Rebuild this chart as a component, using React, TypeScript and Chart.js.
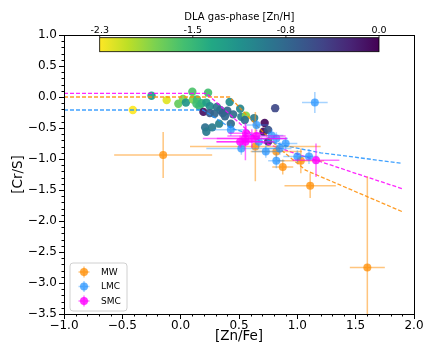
import React, { useEffect, useRef } from "react";
import { Chart, registerables } from "chart.js";
Chart.register(...registerables);

const FONT = "'DejaVu Sans', 'Liberation Sans', sans-serif";

// DLA points: [Zn/Fe], [Cr/S], colour = [Zn/H]
const dlaZnFe = [-0.41, -0.25, -0.12, -0.02, 0.02, 0.045, 0.10, 0.105, 0.14, 0.135, 0.16, 0.18, 0.195, 0.22, 0.235, 0.25, 0.25, 0.29, 0.31, 0.34, 0.36, 0.38, 0.33, 0.42, 0.43, 0.21, 0.22, 0.27, 0.40, 0.45, 0.51, 0.52, 0.56, 0.55, 0.63, 0.81, 0.72, 0.71, 0.75, 0.75];
const dlaCrS = [-0.21, 0.02, -0.05, -0.11, -0.03, -0.09, 0.085, -0.04, -0.04, -0.11, -0.15, -0.10, -0.24, -0.09, 0.07, -0.15, -0.26, -0.27, -0.16, -0.21, -0.26, -0.31, -0.43, -0.08, -0.43, -0.49, -0.56, -0.49, -0.22, -0.28, -0.19, -0.32, -0.30, -0.37, -0.34, -0.18, -0.42, -0.56, -0.53, -0.72];
const dlaZnH = [-2.3, -1.25, -2.2, -1.75, -1.85, -1.2, -1.65, -1.85, -1.6, -1.6, -1.55, -1.5, -0.1, -1.3, -1.6, -1.1, -0.65, -0.75, -0.9, -0.85, -0.7, -0.75, -1.0, -1.1, -0.8, -0.85, -0.95, -0.95, -0.75, -0.8, -1.05, -1.0, -1.9, -0.85, -0.95, -0.5, -0.05, -0.05, -0.6, -0.25];

// Milky Way
const mwZnFe = [-0.15, 0.64, 0.82, 0.875, 1.03, 1.11, 1.60];
const mwCrS = [-0.935, -0.80, -0.88, -1.13, -1.03, -1.43, -2.75];
const mwZnFeErr = [0.42, 0.56, 0.22, 0.09, 0.2, 0.22, 0.15];
const mwCrSErr = [0.37, 0.56, 0.1, 0.12, 0.2, 0.2, 1.47];

// LMC
const lmcZnFe = [1.15, 1.00, 1.10, 0.82, 0.73, 0.85, 0.52, 0.43, 0.67, 0.82, 0.65, 0.78, 0.90];
const lmcCrS = [-0.09, -0.96, -0.96, -1.03, -0.88, -0.83, -0.83, -0.53, -0.72, -0.67, -0.45, -0.62, -0.75];
const lmcZnFeErr = [0.11, 0.12, 0.08, 0.07, 0.12, 0.1, 0.3, 0.15, 0.12, 0.1, 0.1, 0.1, 0.1];
const lmcCrSErr = [0.17, 0.1, 0.12, 0.12, 0.1, 0.1, 0.1, 0.1, 0.1, 0.1, 0.1, 0.1, 0.1];

// SMC
const smcZnFe = [0.56, 0.555, 0.51, 0.61, 0.55, 0.65, 1.16];
const smcCrS = [-0.585, -0.72, -0.72, -0.67, -0.67, -0.63, -1.02];
const smcZnFeErr = [0.15, 0.25, 0.2, 0.3, 0.36, 0.25, 0.2];
const smcCrSErr = [0.12, 0.3, 0.1, 0.15, 0.12, 0.1, 0.27];

// depletion curves
const mwCurveX = [-1, 0.42, 0.62, 0.84, 1.07, 1.9];
const mwCurveY = [0, 0, -0.40, -0.82, -1.18, -1.85];
const lmcCurveX = [-1, 0.19, 0.43, 0.88, 1.2, 1.9];
const lmcCurveY = [-0.21, -0.21, -0.5, -0.78, -0.9, -1.07];
const smcCurveX = [-1, 0.22, 0.68, 1.9];
const smcCurveY = [0.06, 0.06, -0.72, -1.48];

const xTickValues = [-1, -0.5, 0, 0.5, 1, 1.5, 2];
const yTickValues = [-3.5, -3, -2.5, -2, -1.5, -1, -0.5, 0, 0.5, 1];
const cbarMin = -2.3;
const cbarMax = 0;
const cbarTickValues = [-2.3, -1.5333, -0.7667, 0];
const cbarTickLabels = ["-2.3", "-1.5", "-0.8", "0.0"];
const cbarTitle = "DLA gas-phase [Zn/H]";
const legendLabels = ["MW", "LMC", "SMC"];

const VIRIDIS = ["#440154", "#482475", "#414487", "#355f8d", "#2a788e", "#21918c", "#22a884", "#44bf70", "#7ad151", "#bddf26", "#fde725"];
function hex(h: string) {
  return [parseInt(h.slice(1, 3), 16), parseInt(h.slice(3, 5), 16), parseInt(h.slice(5, 7), 16)];
}
function viridis(t: number, a = 1) {
  t = Math.max(0, Math.min(1, t));
  const f = t * 10;
  const i = Math.min(9, Math.floor(f));
  const fr = f - i;
  const c0 = hex(VIRIDIS[i]);
  const c1 = hex(VIRIDIS[i + 1]);
  const c = c0.map((v, k) => Math.round(v + (c1[k] - v) * fr));
  return `rgba(${c[0]},${c[1]},${c[2]},${a})`;
}
function znhColor(v: number, a = 1) {
  return viridis((cbarMax - v) / (cbarMax - cbarMin), a);
}

const MW_C = "rgba(255,140,0,0.75)";
const MW_E = "rgba(255,150,20,0.55)";
const LMC_C = "rgba(30,144,255,0.7)";
const LMC_E = "rgba(30,144,255,0.4)";
const SMC_C = "rgba(255,0,255,0.8)";
const SMC_E = "rgba(255,0,255,0.55)";
const legendColors = [[MW_C, MW_E], [LMC_C, LMC_E], [SMC_C, SMC_E]];

const fmt = (v: number) => (v < -1e-9 ? "\u2212" : "") + Math.abs(v).toFixed(1);

const errPts = (xs: number[], ys: number[], xe: number[], ye: number[]) =>
  xs.map((x, i) => ({ x, y: ys[i], xe: xe[i], ye: ye[i] }));
const curve = (xs: number[], ys: number[]) => xs.map((x, i) => ({ x, y: ys[i] }));

const errorBarPlugin = {
  id: "errbars",
  beforeDatasetDraw(chart: any, args: any) {
    const ds = chart.data.datasets[args.index];
    if (!ds.errorColor) return;
    const { ctx, chartArea: a, scales } = chart;
    const xs = scales.x, ys = scales.y;
    ctx.save();
    ctx.beginPath();
    ctx.rect(a.left, a.top, a.right - a.left, a.bottom - a.top);
    ctx.clip();
    ctx.strokeStyle = ds.errorColor;
    ctx.lineWidth = 1.5;
    for (const p of ds.data) {
      const px = xs.getPixelForValue(p.x);
      const py = ys.getPixelForValue(p.y);
      ctx.beginPath();
      ctx.moveTo(xs.getPixelForValue(p.x - p.xe), py);
      ctx.lineTo(xs.getPixelForValue(p.x + p.xe), py);
      ctx.moveTo(px, ys.getPixelForValue(p.y + p.ye));
      ctx.lineTo(px, ys.getPixelForValue(p.y - p.ye));
      ctx.stroke();
    }
    ctx.restore();
  },
};

const decorPlugin = {
  id: "decor",
  afterDraw(chart: any) {
    const { ctx, chartArea: a, scales } = chart;
    const xs = scales.x, ys = scales.y;
    ctx.save();
    // frame
    ctx.strokeStyle = "#000";
    ctx.lineWidth = 1;
    ctx.strokeRect(Math.round(a.left) + 0.5, Math.round(a.top) + 0.5, Math.round(a.right - a.left), Math.round(a.bottom - a.top));
    // minor ticks
    ctx.beginPath();
    for (let i = -10; i <= 20; i++) {
      if (i % 5 === 0) continue;
      const px = Math.round(xs.getPixelForValue(i / 10)) + 0.5;
      ctx.moveTo(px, a.bottom);
      ctx.lineTo(px, a.bottom + 2.5);
    }
    for (let i = -35; i <= 10; i++) {
      if (i % 5 === 0) continue;
      const py = Math.round(ys.getPixelForValue(i / 10)) + 0.5;
      ctx.moveTo(a.left, py);
      ctx.lineTo(a.left - 2.5, py);
    }
    ctx.stroke();

    // colorbar
    const w = a.right - a.left;
    const cx0 = a.left + 0.102 * w;
    const cx1 = a.left + 0.9 * w;
    const cy0 = a.top + 2.7;
    const ch = 14;
    const g = ctx.createLinearGradient(cx0, 0, cx1, 0);
    for (let k = 0; k <= 20; k++) {
      const t = k / 20;
      g.addColorStop(t, viridis(1 - t));
    }
    ctx.fillStyle = g;
    ctx.fillRect(cx0, cy0, cx1 - cx0, ch);
    ctx.strokeStyle = "#000";
    ctx.lineWidth = 0.8;
    ctx.strokeRect(cx0, cy0, cx1 - cx0, ch);
    ctx.fillStyle = "#000";
    ctx.font = `9.5px ${FONT}`;
    ctx.textAlign = "center";
    ctx.textBaseline = "alphabetic";
    ctx.beginPath();
    cbarTickValues.forEach((v, i) => {
      const px = cx0 + ((v - cbarMin) / (cbarMax - cbarMin)) * (cx1 - cx0);
      ctx.moveTo(px, cy0);
      ctx.lineTo(px, cy0 - 2.5);
      ctx.fillText(cbarTickLabels[i], px, a.top - 2.5);
    });
    ctx.stroke();
    ctx.font = `10px ${FONT}`;
    ctx.fillText(cbarTitle, (cx0 + cx1) / 2, a.top - 15);

    // legend
    const lx = a.left + 6;
    const ly = a.bottom - 51;
    const lw = 57, lh = 48;
    ctx.fillStyle = "rgba(255,255,255,0.85)";
    ctx.strokeStyle = "#d0d0d0";
    ctx.lineWidth = 1;
    ctx.beginPath();
    const r = 3;
    ctx.moveTo(lx + r, ly);
    ctx.arcTo(lx + lw, ly, lx + lw, ly + lh, r);
    ctx.arcTo(lx + lw, ly + lh, lx, ly + lh, r);
    ctx.arcTo(lx, ly + lh, lx, ly, r);
    ctx.arcTo(lx, ly, lx + lw, ly, r);
    ctx.closePath();
    ctx.fill();
    ctx.stroke();
    ctx.font = `9px ${FONT}`;
    ctx.textAlign = "left";
    ctx.textBaseline = "middle";
    legendLabels.forEach((lab, i) => {
      const my = ly + 9 + i * 14.5;
      const mx = lx + 14;
      ctx.strokeStyle = legendColors[i][1];
      ctx.lineWidth = 1.5;
      ctx.beginPath();
      ctx.moveTo(mx - 5.5, my);
      ctx.lineTo(mx + 5.5, my);
      ctx.moveTo(mx, my - 5.5);
      ctx.lineTo(mx, my + 5.5);
      ctx.stroke();
      ctx.fillStyle = legendColors[i][0];
      ctx.beginPath();
      ctx.arc(mx, my, 4, 0, Math.PI * 2);
      ctx.fill();
      ctx.fillStyle = "#000";
      ctx.fillText(lab, lx + 31, my + 0.5);
    });
    ctx.restore();
  },
};

export default function App() {
  const ref = useRef<HTMLCanvasElement>(null);
  useEffect(() => {
    const dlaData = dlaZnFe.map((x, i) => ({ x, y: dlaCrS[i] }));
    const chart = new Chart(ref.current as HTMLCanvasElement, {
      type: "scatter",
      data: {
        datasets: [
          { label: "SMC", data: errPts(smcZnFe, smcCrS, smcZnFeErr, smcCrSErr), backgroundColor: SMC_C, pointRadius: 4, borderWidth: 0, order: 1, errorColor: SMC_E } as any,
          { label: "LMC", data: errPts(lmcZnFe, lmcCrS, lmcZnFeErr, lmcCrSErr), backgroundColor: LMC_C, pointRadius: 4, borderWidth: 0, order: 2, errorColor: LMC_E } as any,
          { label: "MW", data: errPts(mwZnFe, mwCrS, mwZnFeErr, mwCrSErr), backgroundColor: MW_C, pointRadius: 4, borderWidth: 0, order: 3, errorColor: MW_E } as any,
          { label: "SMC fit", data: curve(smcCurveX, smcCurveY), showLine: true, pointRadius: 0, borderColor: "rgba(255,0,255,0.85)", borderWidth: 1.3, borderDash: [4, 2], order: 4 } as any,
          { label: "LMC fit", data: curve(lmcCurveX, lmcCurveY), showLine: true, pointRadius: 0, borderColor: "rgba(30,144,255,0.85)", borderWidth: 1.3, borderDash: [4, 2], order: 4 } as any,
          { label: "MW fit", data: curve(mwCurveX, mwCurveY), showLine: true, pointRadius: 0, borderColor: "rgba(255,140,0,0.85)", borderWidth: 1.3, borderDash: [4, 2], order: 4 } as any,
          { label: "DLA", data: dlaData, backgroundColor: dlaZnH.map((v) => znhColor(v, 0.92)), pointRadius: 4.2, borderWidth: 0, order: 6 } as any,
        ],
      },
      options: {
        animation: false,
        responsive: false,
        layout: { padding: { left: 0, right: 22, top: 35, bottom: 0 } },
        plugins: { legend: { display: false }, tooltip: { enabled: false } },
        scales: {
          x: {
            type: "linear",
            min: -1,
            max: 2,
            afterBuildTicks: (s: any) => { s.ticks = xTickValues.map((v) => ({ value: v })); },
            afterFit: (s: any) => { s.height = 35; },
            grid: { drawOnChartArea: false, drawTicks: true, tickLength: 5, tickColor: "#000", tickWidth: 1 },
            border: { display: true, color: "#000", width: 1 },
            ticks: { color: "#000", font: { family: FONT, size: 12 }, padding: 0, maxRotation: 0, autoSkip: false, callback: (v: any) => fmt(Number(v)) },
            title: { display: true, text: "[Zn/Fe]", color: "#000", font: { family: FONT, size: 13.5 }, padding: { top: 0, bottom: 4 } },
          },
          y: {
            type: "linear",
            min: -3.5,
            max: 1,
            afterBuildTicks: (s: any) => { s.ticks = yTickValues.map((v) => ({ value: v })); },
            afterFit: (s: any) => { s.width = 64; },
            grid: { drawOnChartArea: false, drawTicks: true, tickLength: 5, tickColor: "#000", tickWidth: 1 },
            border: { display: true, color: "#000", width: 1 },
            ticks: { color: "#000", font: { family: FONT, size: 12 }, padding: 2, autoSkip: false, callback: (v: any) => fmt(Number(v)) },
            title: { display: true, text: "[Cr/S]", color: "#000", font: { family: FONT, size: 13.5 }, padding: { top: 10, bottom: 0 } },
          },
        },
      } as any,
      plugins: [errorBarPlugin, decorPlugin],
    });
    return () => chart.destroy();
  }, []);
  return (
    <div style={{ position: "absolute", left: 0, top: 0, width: 436, height: 349, background: "#fff" }}>
      <canvas ref={ref} width={436} height={349} style={{ display: "block", width: 436, height: 349 }} />
    </div>
  );
}
